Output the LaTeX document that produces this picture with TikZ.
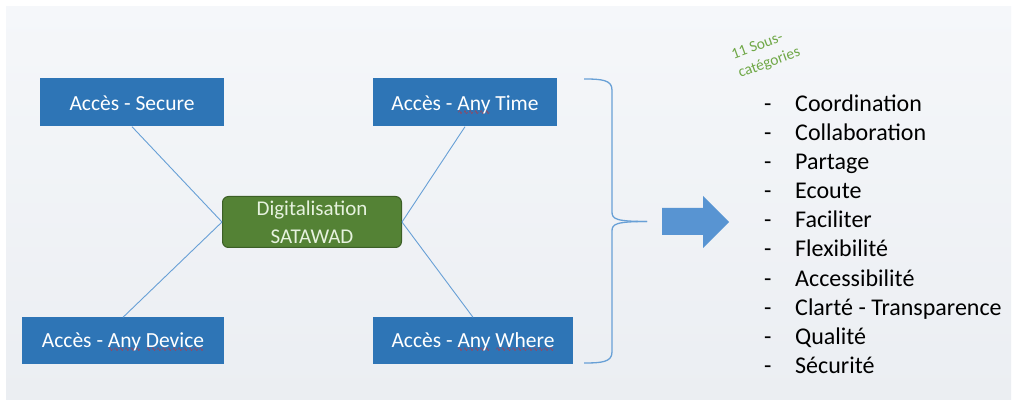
\documentclass[tikz,border=0pt]{standalone}
\usepackage{fontspec}
\setmainfont{Carlito}
\newfontfamily\wavefont{DejaVu Sans}
\definecolor{spellred}{RGB}{214,40,40}
\newcommand\redwave[1]{\setbox0\hbox{#1}\rlap{\smash{\raisebox{-4.4pt}{\color{spellred}\hbox to \wd0{\xleaders\hbox{\wavefont\fontsize{6}{6}\selectfont\char"223F}\hfill}}}}\box0\relax}
\definecolor{boxblue}{RGB}{46,117,182}
\definecolor{linkblue}{RGB}{104,160,214}
\definecolor{arrowblue}{RGB}{88,148,210}
\definecolor{greenfill}{RGB}{84,130,53}
\definecolor{greenborder}{RGB}{60,95,38}
\definecolor{greentext}{RGB}{230,242,222}
\definecolor{labelgreen}{RGB}{112,168,72}
\definecolor{bgtop}{RGB}{245,247,250}
\definecolor{bgbot}{RGB}{235,238,242}
\begin{document}
\begin{tikzpicture}[x=1pt,y=-1pt,
  accbox/.style={fill=boxblue,draw=none,text=white,inner sep=0pt,
    font=\fontsize{21.5}{26}\selectfont,text depth=3pt},
  topbox/.style={accbox,text height=19pt,minimum width=184pt,minimum height=48pt},
  botbox/.style={accbox,text height=16pt,minimum height=47pt},
  hubbox/.style={fill=greenfill,draw=greenborder,line width=1pt,rounded corners=6pt,
    text=greentext,align=center,inner sep=0pt,minimum width=179pt,minimum height=51pt,
    font=\fontsize{21}{28}\selectfont},
  link/.style={draw=linkblue,line width=0.9pt},
  itemtxt/.style={anchor=base west,inner sep=0pt,font=\fontsize{24}{28}\selectfont},
  itemdash/.style={anchor=base west,inner sep=0pt,font=\fontsize{24}{28}\selectfont}
]
\useasboundingbox (0,0) rectangle (1015,403);
\fill[white] (0,0) rectangle (1015,403);
\shade[top color=bgtop,bottom color=bgbot] (6,7) rectangle (1011,399);

% boxes
\node[topbox] (secure) at (132,102.5) {Accès - Secure};
\node[topbox] (anytime) at (465,102.5) {Accès - \redwave{Any} Time};
\node[botbox,minimum width=202pt] (anydevice) at (123,341) {Accès - \redwave{Any} \redwave{Device}};
\node[botbox,minimum width=200pt] (anywhere) at (473,341) {Accès - \redwave{Any} \redwave{Where}};
\node[hubbox] (hub) at (312,222) {Digitalisation\\SATAWAD};

% connectors
\draw[link] (secure.south) -- (hub.west);
\draw[link] (anydevice.north) -- (hub.west);
\draw[link] (anytime.south) -- (hub.east);
\draw[link] (anywhere.north) -- (hub.east);

% brace
\draw[linkblue,line width=1.3pt]
  (584,79) .. controls (602,79) and (612,80) .. (612,90) -- (612,212)
  .. controls (612,219) and (616,221.5) .. (647,221.5);
\draw[linkblue,line width=1.3pt]
  (584,363) .. controls (602,363) and (612,362) .. (612,352) -- (612,231)
  .. controls (612,224) and (616,221.5) .. (647,221.5);

% block arrow
\fill[arrowblue] (662,208) -- (703,208) -- (703,196) -- (729,222) -- (703,248) -- (703,235) -- (662,235) -- cycle;

% green label
\node[text=labelgreen,rotate=20,align=left,inner sep=0pt,
  font=\fontsize{15.5}{20}\selectfont] (souscat) at (766,54) {11 Sous-\\catégories};

% list
\foreach \t [count=\i from 0] in {Coordination,Collaboration,Partage,Ecoute,Faciliter,Flexibilité,Accessibilité,Clarté - Transparence,Qualité,Sécurité}{
  \node[itemdash] (d\i) at (764,111.5+29.1*\i) {-};
  \node[itemtxt] (t\i) at (795,111.5+29.1*\i) {\t};
}
\end{tikzpicture}
\end{document}
